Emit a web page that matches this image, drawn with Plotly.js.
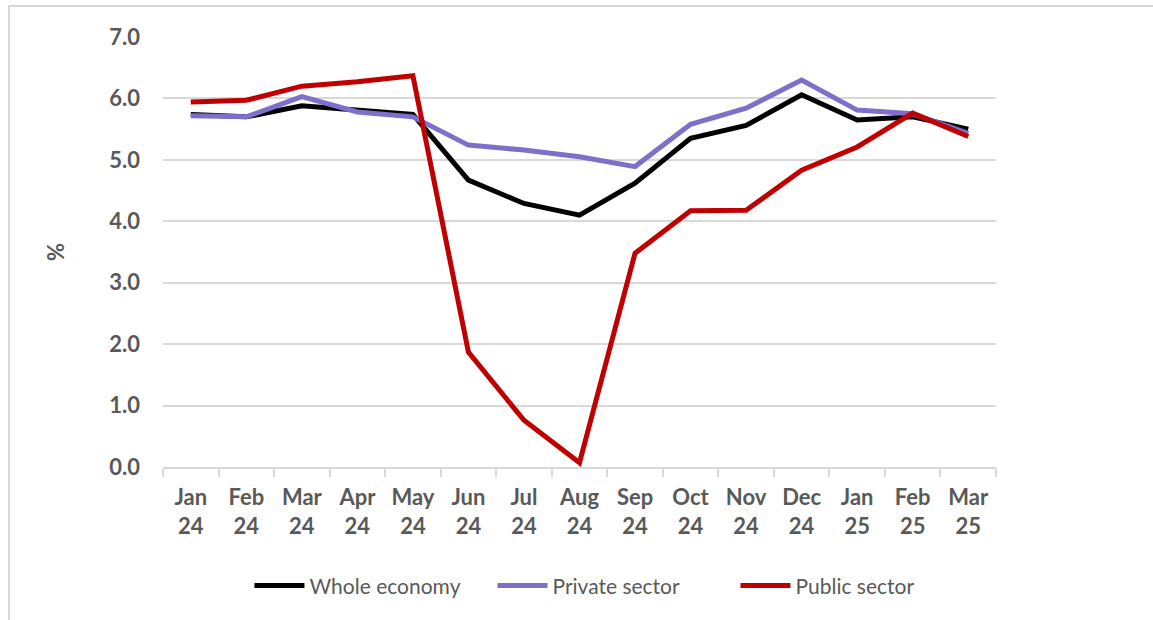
<!DOCTYPE html>
<html>
<head>
<meta charset="utf-8">
<script src="https://cdn.plot.ly/plotly-3.0.1.min.js"></script>
<style>
  html, body { margin: 0; padding: 0; background: #fff; }
  #wrap { position: relative; width: 1153px; height: 620px; overflow: hidden; }
  #frame { position: absolute; left: 8px; top: 5px; width: 1200px; height: 700px; border: 2px solid #d9d9d9; box-sizing: border-box; pointer-events: none; }
  #chart { position: absolute; left: 0; top: 0; width: 1153px; height: 620px; }
</style>
</head>
<body>
<div id="wrap">
  <div id="chart"></div>
  <div id="frame"></div>
</div>
<script>
const months = ["Jan<br>24","Feb<br>24","Mar<br>24","Apr<br>24","May<br>24","Jun<br>24","Jul<br>24","Aug<br>24","Sep<br>24","Oct<br>24","Nov<br>24","Dec<br>24","Jan<br>25","Feb<br>25","Mar<br>25"];
const wholeEconomy = [5.74, 5.70, 5.88, 5.80, 5.74, 4.67, 4.29, 4.10, 4.62, 5.35, 5.56, 6.06, 5.65, 5.70, 5.50];
const privateSector = [5.72, 5.70, 6.03, 5.78, 5.70, 5.24, 5.16, 5.05, 4.89, 5.58, 5.84, 6.30, 5.81, 5.75, 5.43];
const publicSector = [5.94, 5.97, 6.20, 6.27, 6.37, 1.87, 0.76, 0.07, 3.48, 4.17, 4.18, 4.83, 5.21, 5.76, 5.38];
const yTicks = [0, 1, 2, 3, 4, 5, 6, 7];
const yTickText = ["0.0","1.0","2.0","3.0","4.0","5.0","6.0","7.0"];

const mk = (name, y, color) => ({
  type: 'scatter', mode: 'lines', name: name, x: months, y: y,
  line: { color: color, width: 5, shape: 'linear' },
  hoverinfo: 'skip'
});

const data = [
  mk('Whole economy', wholeEconomy, '#000000'),
  mk('Private sector', privateSector, '#7f6fcb'),
  mk('Public sector', publicSector, '#c00000')
];

const FONT = 'Lato, "Open Sans", sans-serif';

const layout = {
  width: 1153, height: 620,
  margin: { l: 163, r: 157, t: 37, b: 153, pad: 0 },
  paper_bgcolor: 'rgba(0,0,0,0)', plot_bgcolor: '#ffffff',
  font: { family: FONT, color: '#595959', size: 19 },
  showlegend: true,
  legend: {
    orientation: 'h', xref: 'container', yref: 'container',
    x: 0.5325, xanchor: 'center', y: 0.055, yanchor: 'middle',
    font: { size: 21, color: '#595959', family: FONT },
    entrywidth: 178, entrywidthmode: 'pixels',
    itemwidth: 50, tracegroupgap: 0, itemclick: false
  },
  xaxis: {
    type: 'category', range: [-0.5, 14.5], tickson: 'boundaries', ticks: 'outside', ticklen: 8,
    tickcolor: '#d9d9d9', tickwidth: 2,
    showline: true, linecolor: '#d9d9d9', linewidth: 2,
    showgrid: false, zeroline: false,
    tickfont: { size: 22, color: '#595959', family: FONT, weight: 'bold' },
    ticklabelstandoff: 10, fixedrange: true
  },
  yaxis: {
    range: [0, 7], tickvals: yTicks, ticktext: yTickText,
    showgrid: true, gridcolor: '#d9d9d9', gridwidth: 2,
    zeroline: false, showline: false, ticks: '',
    tickfont: { size: 22, color: '#595959', family: FONT, weight: 'bold' },
    ticklabelstandoff: 22,
    title: { text: '%', font: { size: 22, color: '#595959', family: FONT, weight: 'bold' }, standoff: 38 },
    fixedrange: true
  }
};

Plotly.newPlot('chart', data, layout, { displayModeBar: false, staticPlot: true });
</script>
</body>
</html>
